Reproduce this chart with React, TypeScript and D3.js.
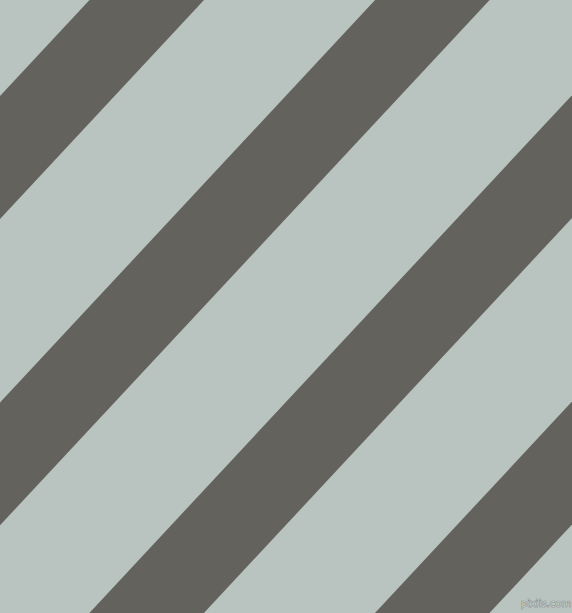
import React from "react";
import * as d3 from "d3";

const WIDTH = 572;
const HEIGHT = 613;
const stripeIndex = [-1, 0, 1, 2, 3];
const stripeOffsets = [89.5, 375.1]; // left edge at y=0 for stripe 0 and 1
const stripeBandWidth = 114.5; // horizontal width of dark band
const horizontalShiftPerPixel = 0.932; // dx per dy
const LIGHT = "#B9C4C0";
const DARK = "#63625D";
const watermark = "pixiis.com";

export default function App() {
  React.useEffect(() => {
    document.body.style.margin = "0";
  }, []);
  const xOf = d3.scaleLinear().domain([0, 1]).range(stripeOffsets);
  const shift = d3.scaleLinear().domain([0, HEIGHT]).range([0, -HEIGHT * horizontalShiftPerPixel]);
  const line = d3.line<[number, number]>().curve(d3.curveLinearClosed);
  return (
    <svg
      width={WIDTH}
      height={HEIGHT}
      style={{ position: "absolute", left: 0, top: 0, display: "block" }}
    >
      <rect x={0} y={0} width={WIDTH} height={HEIGHT} fill={LIGHT} />
      {stripeIndex.map((k) => {
        const x0 = xOf(k);
        const pts: [number, number][] = [
          [x0 + shift(0), 0],
          [x0 + stripeBandWidth + shift(0), 0],
          [x0 + stripeBandWidth + shift(HEIGHT), HEIGHT],
          [x0 + shift(HEIGHT), HEIGHT],
        ];
        return <path key={k} d={line(pts) || ""} fill={DARK} />;
      })}
      <text
        x={546}
        y={607}
        textAnchor="middle"
        fontFamily="DejaVu Sans, sans-serif"
        fontSize={10}
        fill="#C4CCC9"
        stroke="#6E6E6E"
        strokeWidth={0.6}
        paintOrder="stroke"
      >
        {watermark}
      </text>
    </svg>
  );
}
